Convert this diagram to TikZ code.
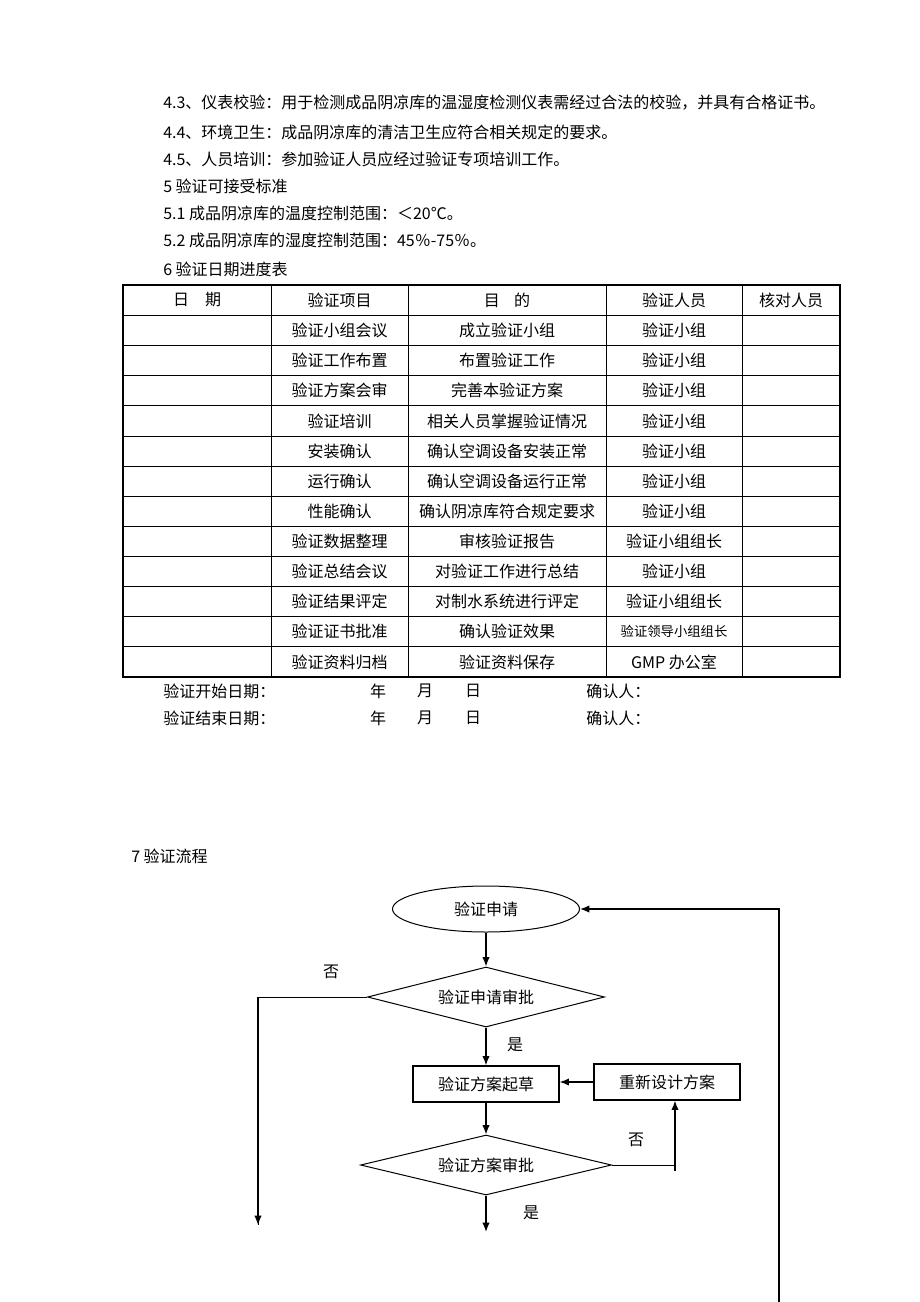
\documentclass[tikz,border=0pt]{standalone}
\usepackage{fontspec}
\setmainfont{Noto Sans CJK SC}
\usetikzlibrary{shapes.geometric,arrows.meta}
\tikzset{
	rule/.style={line width=0.75pt},
	frame/.style={line width=2pt},
	flow/.style={line width=1pt, -{Latex[length=7pt,width=5.5pt]}},
	para/.style={anchor=west, inner sep=0pt},
	box/.style={draw, line width=0.9pt, minimum width=109.5pt, minimum height=27pt, inner sep=0pt},
	decide/.style={draw, diamond, aspect=4, line width=0.75pt, minimum height=45pt, inner sep=0pt},
	start/.style={draw, ellipse, line width=0.75pt, minimum width=140.25pt, minimum height=34.5pt, inner sep=0pt}
}

\begin{document}
\begin{tikzpicture}[x=0.75pt, y=-0.75pt, font=\fontsize{12}{14}\selectfont]
			%%%%% START %%%%%
			\useasboundingbox (0, 0) rectangle (920, 1302);
			
			\node[para] (p43) at (163, 103) {4.3、仪表校验：用于检测成品阴凉库的温湿度检测仪表需经过合法的校验，并具有合格证书。};
			\node[para] (p44) at (163, 132) {4.4、环境卫生：成品阴凉库的清洁卫生应符合相关规定的要求。};
			\node[para] (p45) at (163, 159) {4.5、人员培训：参加验证人员应经过验证专项培训工作。};
			\node[para] (p5) at (163, 186) {5 验证可接受标准};
			\node[para] (p51) at (163, 213) {5.1 成品阴凉库的温度控制范围：＜20℃。};
			\node[para] (p52) at (163, 240) {5.2 成品阴凉库的湿度控制范围：45％-75％。};
			\node[para] (p6) at (163, 269) {6 验证日期进度表};
			
			\draw[rule] (271, 285) -- (271, 677);
			\draw[rule] (408, 285) -- (408, 677);
			\draw[rule] (606, 285) -- (606, 677);
			\draw[rule] (742, 285) -- (742, 677);
			
			\draw[rule] (123, 315.5) -- (840, 315.5);
			\draw[rule] (123, 345.6) -- (840, 345.6);
			\draw[rule] (123, 375.8) -- (840, 375.8);
			\draw[rule] (123, 405.9) -- (840, 405.9);
			\draw[rule] (123, 436.0) -- (840, 436.0);
			\draw[rule] (123, 466.1) -- (840, 466.1);
			\draw[rule] (123, 496.3) -- (840, 496.3);
			\draw[rule] (123, 526.4) -- (840, 526.4);
			\draw[rule] (123, 556.5) -- (840, 556.5);
			\draw[rule] (123, 586.6) -- (840, 586.6);
			\draw[rule] (123, 616.8) -- (840, 616.8);
			\draw[rule] (123, 646.9) -- (840, 646.9);
			
			\draw[frame] (123, 285) rectangle (840, 677);
			
			\node (hdate) at (197, 300) {日\hspace{1em}期};
			\node (hitem) at (339.5, 300) {验证项目};
			\node (hgoal) at (507, 300) {目\hspace{0.9em}的};
			\node (hstaff) at (674, 300) {验证人员};
			\node (hcheck) at (791, 300) {核对人员};
			
			\node (item1) at (339.5, 330.6) {验证小组会议};
			\node (goal1) at (507, 330.6) {成立验证小组};
			\node (staff1) at (674, 330.6) {验证小组};
			\node (item2) at (339.5, 360.7) {验证工作布置};
			\node (goal2) at (507, 360.7) {布置验证工作};
			\node (staff2) at (674, 360.7) {验证小组};
			\node (item3) at (339.5, 390.8) {验证方案会审};
			\node (goal3) at (507, 390.8) {完善本验证方案};
			\node (staff3) at (674, 390.8) {验证小组};
			\node (item4) at (339.5, 421.0) {验证培训};
			\node (goal4) at (507, 421.0) {相关人员掌握验证情况};
			\node (staff4) at (674, 421.0) {验证小组};
			\node (item5) at (339.5, 451.1) {安装确认};
			\node (goal5) at (507, 451.1) {确认空调设备安装正常};
			\node (staff5) at (674, 451.1) {验证小组};
			\node (item6) at (339.5, 481.2) {运行确认};
			\node (goal6) at (507, 481.2) {确认空调设备运行正常};
			\node (staff6) at (674, 481.2) {验证小组};
			\node (item7) at (339.5, 511.3) {性能确认};
			\node (goal7) at (507, 511.3) {确认阴凉库符合规定要求};
			\node (staff7) at (674, 511.3) {验证小组};
			\node (item8) at (339.5, 541.4) {验证数据整理};
			\node (goal8) at (507, 541.4) {审核验证报告};
			\node (staff8) at (674, 541.4) {验证小组组长};
			\node (item9) at (339.5, 571.6) {验证总结会议};
			\node (goal9) at (507, 571.6) {对验证工作进行总结};
			\node (staff9) at (674, 571.6) {验证小组};
			\node (item10) at (339.5, 601.7) {验证结果评定};
			\node (goal10) at (507, 601.7) {对制水系统进行评定};
			\node (staff10) at (674, 601.7) {验证小组组长};
			\node (item11) at (339.5, 631.8) {验证证书批准};
			\node (goal11) at (507, 631.8) {确认验证效果};
			\node[font=\fontsize{10}{12}\selectfont] (staff11) at (674, 631.8) {验证领导小组组长};
			\node (item12) at (339.5, 661.9) {验证资料归档};
			\node (goal12) at (507, 661.9) {验证资料保存};
			\node (staff12) at (674, 661.9) {GMP 办公室};
			
			\node[para] (startdate) at (163, 691) {验证开始日期：};
			\node (startyear) at (378, 691) {年};
			\node (startmonth) at (425, 691) {月};
			\node (startday) at (473, 691) {日};
			\node[para] (startsign) at (586, 691) {确认人：};
			\node[para] (enddate) at (163, 718) {验证结束日期：};
			\node (endyear) at (378, 718) {年};
			\node (endmonth) at (425, 718) {月};
			\node (endday) at (473, 718) {日};
			\node[para] (endsign) at (586, 718) {确认人：};
			
			\node[para] (p7) at (131, 856) {7 验证流程};
			
			\node[start] (apply) at (486, 909) {验证申请};
			\node[decide, minimum width=177.75pt] (check1) at (486, 997) {验证申请审批};
			\node[box] (draft) at (486, 1084) {验证方案起草};
			\node[box] (redesign) at (667, 1082) {重新设计方案};
			\node[decide, minimum width=188.25pt] (check2) at (486, 1165) {验证方案审批};
			
			\coordinate (noend) at (258, 1225);
			\coordinate (yesend) at (486, 1232);
			\coordinate (turn) at (675, 1171);
			\coordinate (loopend) at (779, 1302);
			
			\draw[flow] (apply) -- (check1);
			\draw[flow] (check1) -- (draft);
			\draw[flow] (draft) -- (check2);
			\draw[flow] (check2) -- (yesend);
			\draw[flow] (redesign.west) -- (redesign.west -| draft.east);
			\draw[rule] (check1.west) -| (noend);
			\draw[flow] (noend |- check1.west) -- (noend);
			\draw[rule] (check2.east) -- (check2.east -| turn);
			\draw[flow] (turn) -- (turn |- redesign.south);
			\draw[flow] (loopend) |- (apply.east);
			
			\node (no1) at (331, 972) {否};
			\node (yes1) at (515, 1045) {是};
			\node (no2) at (636, 1140) {否};
			\node (yes2) at (531, 1213) {是};
			
			%%%%% END %%%%%
		\end{tikzpicture}
\end{document}
